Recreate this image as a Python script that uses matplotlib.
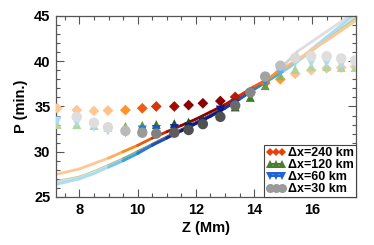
import numpy as np
import matplotlib
matplotlib.use('Agg')
import matplotlib.pyplot as plt
from matplotlib.collections import LineCollection
from matplotlib.colors import LinearSegmentedColormap
from matplotlib.lines import Line2D
from matplotlib.ticker import MultipleLocator

plt.rcParams['font.family'] = ['Liberation Sans', 'DejaVu Sans']
plt.rcParams['font.weight'] = 'bold'

# ---- data ----
z_pts = [7.24, 7.91, 8.50, 8.98, 9.58, 10.16, 10.64, 11.26, 11.75, 12.24,
         12.84, 13.35, 13.87, 14.38, 14.90, 15.41, 15.96, 16.49, 16.99, 17.47]
p_240 = [34.8, 34.6, 34.5, 34.55, 34.6, 34.8, 35.0, 35.0, 35.15, 35.35,
         35.6, 36.05, 36.6, 37.6, 38.0, 38.6, 39.0, 39.2, 39.3, 39.4]
p_120 = [33.0, 33.0, 32.9, 32.7, 32.8, 32.9, 33.0, 33.1, 33.25, 33.6,
         34.4, 34.95, 36.0, 37.3, 38.4, 39.1, 39.4, 39.4, 39.3, 39.3]
p_60 = [33.4, 33.2, 32.7, 32.3, 32.1, 32.4, 32.45, 32.55, 32.7, 33.2,
        34.6, 35.3, 36.4, 37.7, 38.8, 39.8, 39.8, 39.8, 39.6, 39.6]
p_30 = [np.nan, 33.85, 33.2, 32.7, 32.3, 32.1, 32.0, 32.1, 32.4, 33.05,
        33.85, 35.1, 36.55, 38.3, 39.5, 40.35, 40.55, 40.55, 40.3, 40.1]

z_line = [7.2, 8.0, 8.5, 9.0, 9.5, 10.0, 10.5, 11.0, 11.5, 12.0, 12.5,
          13.0, 13.5, 14.0, 14.5, 15.0, 15.5, 16.0, 16.5, 17.0, 17.5]
l_240 = [27.5, 28.1, 28.7, 29.3, 30.0, 30.7, 31.5, 32.2, 32.9, 33.6, 34.4,
         35.2, 36.2, 37.2, 38.1, 39.2, 40.2, 41.3, 42.3, 43.4, 44.5]
l_120 = [26.7, 27.2, 27.8, 28.5, 29.2, 30.0, 30.8, 31.6, 32.4, 33.2, 34.0,
         34.9, 35.9, 36.9, 37.9, 38.9, 40.0, 41.2, 42.4, 43.6, 44.8]
l_60 = [26.4, 27.0, 27.6, 28.3, 29.0, 29.8, 30.7, 31.5, 32.3, 33.1, 33.9,
        34.8, 35.8, 36.9, 37.9, 38.9, 40.0, 41.4, 42.7, 44.0, 45.3]
l_30 = [26.6, 27.1, 27.7, 28.4, 29.1, 29.9, 30.8, 31.6, 32.4, 33.2, 34.0,
        34.9, 35.9, 37.0, 38.0, 39.5, 41.1, 42.2, 43.3, 44.4, 45.5]

labels = ['\u0394x=240 km', '\u0394x=120 km', '\u0394x=60 km', '\u0394x=30 km']

# ---- styles ----
cmaps = [
    LinearSegmentedColormap.from_list('o', [(0, '#fdc896'), (0.3, '#ff8c1a'), (0.6, '#e8400a'), (1, '#8b0000')]),
    LinearSegmentedColormap.from_list('g', [(0, '#b8d49c'), (0.3, '#7fb048'), (0.6, '#4a7f28'), (1, '#1f4a12')]),
    LinearSegmentedColormap.from_list('b', [(0, '#a8dcf8'), (0.3, '#36a8f0'), (0.6, '#1e64d8'), (1, '#0a1a8c')]),
    LinearSegmentedColormap.from_list('k', [(0, '#dedede'), (0.3, '#b4b4b4'), (0.6, '#8a8a8a'), (1, '#505050')]),
]
legend_colors = ['#e8400a', '#4a7f28', '#1e64d8', '#9a9a9a']
markers = ['D', '^', 'v', 'o']
msizes = [5.5, 6.5, 6.5, 7.5]


def intensity(z):
    z = np.asarray(z, dtype=float)
    return np.clip(1 - np.maximum(np.abs(z - 12.2) - 0.7, 0) / 2.6, 0, 1)


fig = plt.figure(figsize=(3.74, 2.45), dpi=100)
ax = fig.add_axes([0.150, 0.196, 0.802, 0.739])

lines = [l_240, l_120, l_60, l_30]
pts = [p_240, p_120, p_60, p_30]

zl = np.array(z_line)
for i in [1, 3, 2, 0]:
    y = np.array(lines[i])
    segs = [[(zl[k], y[k]), (zl[k + 1], y[k + 1])] for k in range(len(zl) - 1)]
    mids = (zl[:-1] + zl[1:]) / 2
    lc = LineCollection(segs, colors=cmaps[i](intensity(mids)), linewidths=2.0,
                        capstyle='round', zorder=2)
    ax.add_collection(lc)

zp = np.array(z_pts)
for i in [0, 1, 2, 3]:
    cols = cmaps[i](intensity(zp))
    ax.scatter(zp, pts[i], c=cols, marker=markers[i], s=msizes[i] ** 2,
               linewidths=0, zorder=3 + i)

ax.set_xlim(7.2, 17.5)
ax.set_ylim(25, 45)
ax.xaxis.set_major_locator(MultipleLocator(2))
ax.xaxis.set_minor_locator(MultipleLocator(0.5))
ax.yaxis.set_major_locator(MultipleLocator(5))
ax.yaxis.set_minor_locator(MultipleLocator(1))
ax.tick_params(which='both', direction='in', top=True, right=True, color='#555555',
               width=0.8, labelsize=10.5)
ax.tick_params(which='major', length=6, pad=4)
ax.tick_params(which='minor', length=3)
for sp in ax.spines.values():
    sp.set_color('#555555')
    sp.set_linewidth(0.9)
for t in ax.get_xticklabels() + ax.get_yticklabels():
    t.set_fontweight('bold')

ax.set_xlabel('Z (Mm)', fontsize=10.5, fontweight='bold', labelpad=3)
ax.set_ylabel('P (min.)', fontsize=10.5, fontweight='bold', labelpad=4)

handles = [Line2D([0], [0], color=legend_colors[i], marker=markers[i], markersize=msizes[i] - 1,
                  markeredgewidth=0, linewidth=1.5) for i in range(4)]
leg = ax.legend(handles, labels, loc='lower right', numpoints=3, fontsize=9,
                prop={'weight': 'bold', 'size': 9}, handlelength=1.6, handletextpad=0.2,
                labelspacing=0.0, borderpad=0.15, borderaxespad=0.0, fancybox=False,
                framealpha=1)
leg.get_frame().set_edgecolor('#444444')
leg.get_frame().set_linewidth(0.8)
leg.set_zorder(10)

fig.savefig('out.png', dpi=100)
